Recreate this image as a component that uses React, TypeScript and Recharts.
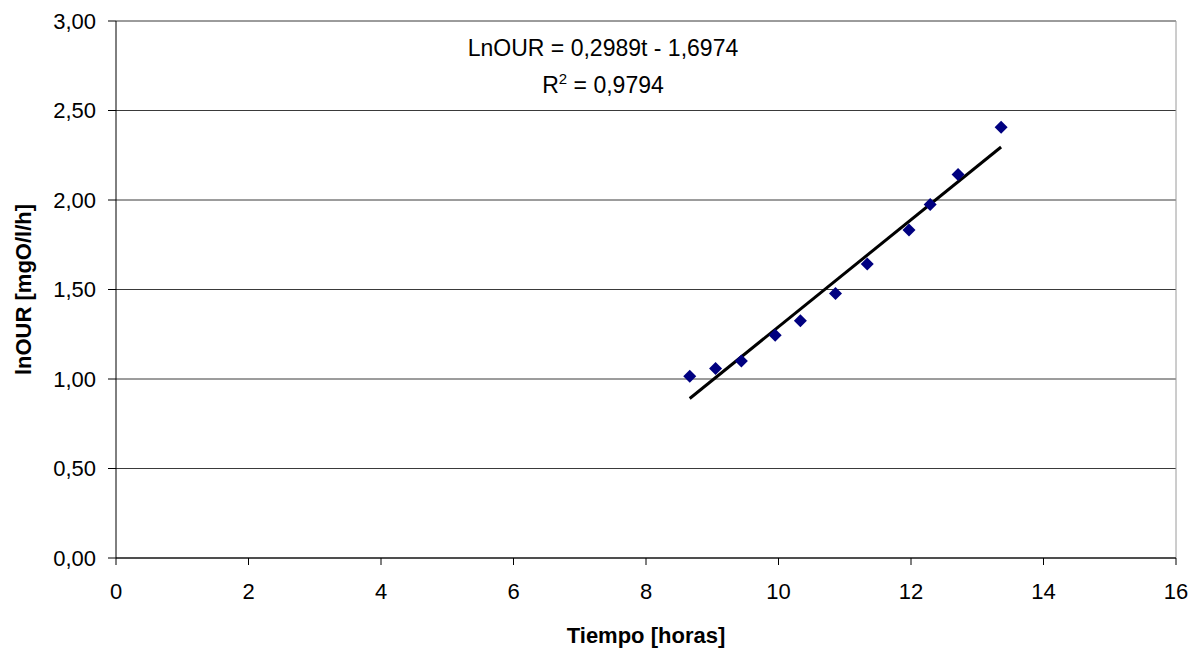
import React from 'react';
import { ScatterChart, Scatter, XAxis, YAxis, CartesianGrid, ReferenceLine } from 'recharts';

// measured points (Tiempo [horas], lnOUR)
const tiempo = [8.66, 9.05, 9.44, 9.95, 10.33, 10.86, 11.34, 11.97, 12.29, 12.71, 13.36];
const lnOur = [1.016, 1.059, 1.101, 1.245, 1.325, 1.478, 1.643, 1.832, 1.975, 2.143, 2.406];

// linear trend line ends
const trendX = [8.66, 13.36];
const trendY = [0.891, 2.296];

const xTicks = [0, 2, 4, 6, 8, 10, 12, 14, 16];
const yTicks = [0, 0.5, 1, 1.5, 2, 2.5, 3];

const FONT = '"Liberation Sans", Arial, sans-serif';

const points = tiempo.map((t, i) => ({ t, y: lnOur[i] }));
const trend = trendX.map((t, i) => ({ t, y: trendY[i] }));

const fmt = (v: number) => v.toFixed(2).replace('.', ',');

// square diamond like the spreadsheet marker
const Diamond = (props: any) => {
    const { cx, cy } = props;
    const r = 6.5;
    return <polygon points={`${cx},${cy - r} ${cx + r},${cy} ${cx},${cy + r} ${cx - r},${cy}`} fill="#000080" />;
};

export default function App() {
    return (
        <div style={{ position: 'absolute', left: 0, top: 0, width: 1202, height: 653, background: '#fff', fontFamily: FONT }}>
            <ScatterChart width={1202} height={653} margin={{ top: 21, right: 26, bottom: 0, left: 0 }}>
                <CartesianGrid vertical={false} stroke="#3a3a3a" strokeWidth={1} />
                <XAxis
                    type="number"
                    dataKey="t"
                    domain={[0, 16]}
                    ticks={xTicks}
                    height={95}
                    tickSize={7}
                    tickMargin={18}
                    stroke="#000"
                    tick={{ fill: '#000', fontSize: 22, fontFamily: FONT }}
                    label={{
                        content: ({ viewBox }: any) => (
                            <text x={viewBox.x + viewBox.width / 2} y={643} textAnchor="middle" fontSize={22} fontWeight="bold" fontFamily={FONT} fill="#000">
                                Tiempo [horas]
                            </text>
                        ),
                    }}
                />
                <YAxis
                    type="number"
                    dataKey="y"
                    domain={[0, 3]}
                    ticks={yTicks}
                    width={116}
                    tickSize={8}
                    tickMargin={12}
                    tickFormatter={fmt}
                    stroke="#000"
                    tick={{ fill: '#000', fontSize: 22, fontFamily: FONT }}
                    label={{
                        content: ({ viewBox }: any) => {
                            const cy = viewBox.y + viewBox.height / 2;
                            return (
                                <text x={23} y={cy} transform={`rotate(-90 23 ${cy})`} textAnchor="middle" dominantBaseline="central" fontSize={22} fontWeight="bold" fontFamily={FONT} fill="#000">
                                    lnOUR [mgO/l/h]
                                </text>
                            );
                        },
                    }}
                />
                <ReferenceLine y={3} stroke="#9a9a9a" />
                <ReferenceLine x={16} stroke="#9a9a9a" />
                <Scatter data={trend} line={{ stroke: '#000', strokeWidth: 3 }} shape={() => <g />} isAnimationActive={false} />
                <Scatter data={points} shape={Diamond} isAnimationActive={false} />
            </ScatterChart>
            <div style={{ position: 'absolute', left: 403, width: 400, top: 30, textAlign: 'center', fontSize: 23, lineHeight: '37px', color: '#000' }}>
                <div>LnOUR = 0,2989t - 1,6974</div>
                <div>
                    R<sup style={{ fontSize: 15, lineHeight: 0, verticalAlign: 9 }}>2</sup> = 0,9794
                </div>
            </div>
        </div>
    );
}
